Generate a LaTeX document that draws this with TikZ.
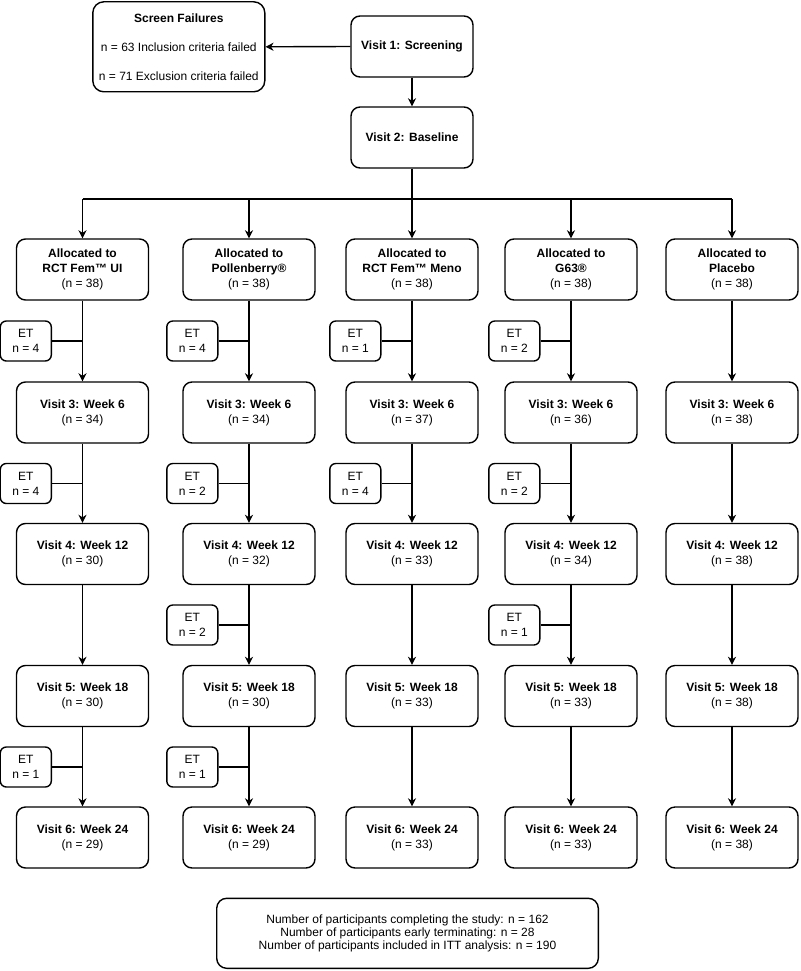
\documentclass[tikz,border=0pt]{standalone}
\usepackage{fontspec}
\setmainfont{Liberation Sans}
\usetikzlibrary{arrows.meta}
\begin{document}
\begin{tikzpicture}[x=1pt,y=-1pt,
  every node/.style={font=\fontsize{12}{15}\selectfont, align=center, inner sep=0pt},
  box/.style={draw, line width=1.4pt, rounded corners=9pt, minimum width=132pt, minimum height=61pt},
  etbox/.style={draw, line width=1.4pt, rounded corners=6pt, minimum width=51pt, minimum height=40pt},
  arr/.style={line width=1.4pt, -{Stealth[length=8pt,width=8pt,inset=2.5pt]}},
  ln/.style={line width=1.4pt}]
\useasboundingbox (0,0) rectangle (800,971);

% top
\node[box, minimum width=172pt, minimum height=90pt, rounded corners=11pt, font=\fontsize{12}{29}\selectfont] (sf) at (178.8,46.8)
  {\textbf{Screen Failures}\\n = 63 Inclusion criteria failed\\n = 71 Exclusion criteria failed};
\node[box, minimum width=122pt] (v1) at (412,46.5) {\textbf{Visit 1: Screening}};
\node[box, minimum width=122pt] (v2) at (412,137.5) {\textbf{Visit 2: Baseline}};
\draw[arr] (v1.west) -- (sf.east);
\draw[arr] (v1.south) -- (v2.north);

% columns
\foreach \c/\x in {1/82.5, 2/249, 3/412, 4/571, 5/732} {
  \coordinate (col\c) at (\x,0);
}
\coordinate (bus) at (0,199);

\node[box] (a1) at (col1 |- 0,269.5) {\textbf{Allocated to}\\\textbf{RCT Fem™ UI}\\(n = 38)};
\node[box] (a2) at (col2 |- 0,269.5) {\textbf{Allocated to}\\\textbf{Pollenberry®}\\(n = 38)};
\node[box] (a3) at (col3 |- 0,269.5) {\textbf{Allocated to}\\\textbf{RCT Fem™ Meno}\\(n = 38)};
\node[box] (a4) at (col4 |- 0,269.5) {\textbf{Allocated to}\\\textbf{G63®}\\(n = 38)};
\node[box] (a5) at (col5 |- 0,269.5) {\textbf{Allocated to}\\\textbf{Placebo}\\(n = 38)};

\draw[ln] (v2.south) -- (v2.south |- bus);
\draw[ln] (a1.north |- bus) -- (a5.north |- bus);
\foreach \c in {1,...,5} { \draw[arr] (a\c.north |- bus) -- (a\c.north); }

% visit rows
\foreach \c/\n in {1/34, 2/34, 3/37, 4/36, 5/38} {
  \node[box] (b\c) at (col\c |- 0,412.5) {\textbf{Visit 3: Week 6}\\(n = \n)};
}
\foreach \c/\n in {1/30, 2/32, 3/33, 4/34, 5/38} {
  \node[box] (c\c) at (col\c |- 0,554) {\textbf{Visit 4: Week 12}\\(n = \n)};
}
\foreach \c/\n in {1/30, 2/30, 3/33, 4/33, 5/38} {
  \node[box] (d\c) at (col\c |- 0,696) {\textbf{Visit 5: Week 18}\\(n = \n)};
}
\foreach \c/\n in {1/29, 2/29, 3/33, 4/33, 5/38} {
  \node[box] (e\c) at (col\c |- 0,837.5) {\textbf{Visit 6: Week 24}\\(n = \n)};
}
\foreach \c in {1,...,5} {
  \draw[arr] (a\c.south) -- (b\c.north);
  \draw[arr] (b\c.south) -- (c\c.north);
  \draw[arr] (c\c.south) -- (d\c.north);
  \draw[arr] (d\c.south) -- (e\c.north);
}

% early terminations
\foreach \nm/\c/\y/\n in {t11/1/341/4, t12/1/483.5/4, t14/1/767/1,
                         t21/2/341/4, t22/2/483.5/2, t23/2/625/2, t24/2/767/1,
                         t31/3/341/1, t32/3/483.5/4,
                         t41/4/341/2, t42/4/483.5/2, t43/4/625/1} {
  \node[etbox, anchor=east] (\nm) at ([xshift=-30.5pt]col\c |- 0,\y) {ET\\n = \n};
  \draw[ln] (\nm.east) -- (\nm.east -| col\c);
}

% summary
\node[box, minimum width=381.6pt, minimum height=70pt, rounded corners=10pt, font=\fontsize{12}{12.6}\selectfont] (sum) at (407.5,933.3)
  {Number of participants completing the study: n = 162\\Number of participants early terminating: n = 28\\Number of participants included in ITT analysis: n = 190};
\end{tikzpicture}
\end{document}
